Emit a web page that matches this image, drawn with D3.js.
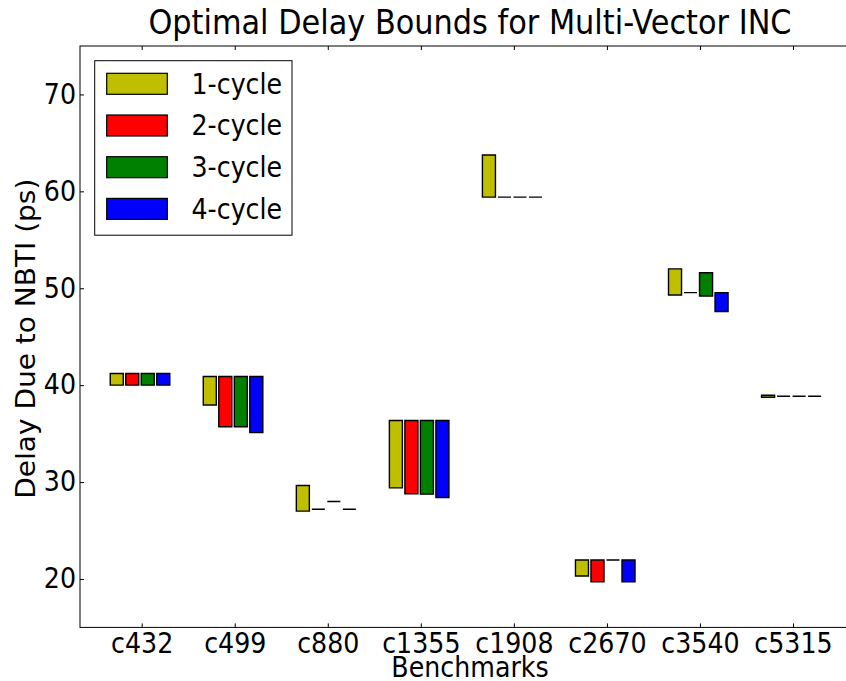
<!DOCTYPE html>
<html>
<head>
<meta charset="utf-8">
<style>
  body { margin: 0; background: #fff; }
  svg { display: block; font-family: "DejaVu Sans", sans-serif; }
</style>
</head>
<body>
<svg width="846" height="681"></svg>
<script src="https://d3js.org/d3.v7.min.js"></script>
<script>

var benchmarks = ["c432", "c499", "c880", "c1355", "c1908", "c2670", "c3540", "c5315"];
var cycles = ["1-cycle", "2-cycle", "3-cycle", "4-cycle"];
var colors = ["#bfbf00", "#ff0000", "#008000", "#0000ff"];

// lower / upper delay bound per benchmark (ps)
var low1  = [40.0, 37.95, 27.0, 29.4, 59.4, 20.3, 49.3, 38.75];
var high1 = [41.2, 40.9, 29.65, 36.35, 63.75, 21.95, 52.0, 38.95];
var low2  = [40.0, 35.7, 27.2, 28.8, 59.4, 19.7, 49.55, 38.85];
var high2 = [41.2, 40.9, 27.2, 36.35, 59.4, 21.95, 49.55, 38.85];
var low3  = [40.0, 35.7, 28.0, 28.75, 59.4, 21.95, 49.2, 38.85];
var high3 = [41.2, 40.9, 28.0, 36.35, 59.4, 21.95, 51.6, 38.85];
var low4  = [40.0, 35.1, 27.2, 28.4, 59.4, 19.7, 47.6, 38.85];
var high4 = [41.2, 40.9, 27.2, 36.35, 59.4, 21.95, 49.55, 38.85];

var yTicks = [20, 30, 40, 50, 60, 70];

var lows = [low1, low2, low3, low4],
    highs = [high1, high2, high3, high4];

var svg = d3.select("svg"),
    fontSize = 27.5,
    squish = 0.92;

var x = d3.scaleLinear().domain([-0.663, 7.72]).range([80, 860]),
    y = d3.scaleLinear().domain([15, 75]).range([627.4, 46]);

var barStep = 1 / 6, barWidth = 0.14, barOffset = -0.338;

svg.append("rect").attr("width", 846).attr("height", 681).attr("fill", "#fff");

// bars
cycles.forEach(function(c, k) {
  var rows = benchmarks.map(function(b, i) {
    return {i: i, lo: lows[k][i], hi: highs[k][i]};
  });
  svg.append("g").selectAll("path")
    .data(rows)
    .enter().append("path")
      .attr("d", function(d) {
        var x0 = x(d.i + barOffset + k * barStep),
            x1 = x(d.i + barOffset + k * barStep + barWidth),
            y0 = y(d.hi), y1 = y(d.lo);
        return "M" + x0 + "," + y0 + "H" + x1 + "V" + y1 + "H" + x0 + "Z";
      })
      .attr("fill", colors[k])
      .attr("stroke", "#000")
      .attr("stroke-width", 1.4);
});

// axes
var xAxis = svg.append("g")
    .attr("transform", "translate(0," + y(15) + ")")
    .call(d3.axisBottom(x).tickValues(d3.range(benchmarks.length))
      .tickFormat(function(i) { return benchmarks[i]; })
      .tickSizeInner(-4).tickSizeOuter(0).tickPadding(5.6));

var xTop = svg.append("g")
    .attr("transform", "translate(0," + y(75) + ")")
    .call(d3.axisTop(x).tickValues(d3.range(benchmarks.length))
      .tickFormat("").tickSizeInner(-4).tickSizeOuter(0));

var yAxis = svg.append("g")
    .attr("transform", "translate(" + x.range()[0] + ",0)")
    .call(d3.axisLeft(y).tickValues(yTicks).tickFormat(d3.format("d"))
      .tickSizeInner(-4).tickSizeOuter(0).tickPadding(4));

[xAxis, xTop, yAxis].forEach(function(g) {
  g.select(".domain").remove();
  g.selectAll("line").attr("stroke", "#000");
  g.selectAll("text")
    .attr("fill", "#000")
    .style("font-family", "DejaVu Sans")
    .style("font-size", fontSize + "px");
});

svg.append("rect")
    .attr("x", 80).attr("y", y(75))
    .attr("width", 780).attr("height", y(15) - y(75))
    .attr("fill", "none").attr("stroke", "#000").attr("stroke-width", 1);

// legend
var legend = svg.append("g");
legend.append("rect")
    .attr("x", 94.7).attr("y", 60.7)
    .attr("width", 197.3).attr("height", 174.5)
    .attr("fill", "#fff").attr("stroke", "#000").attr("stroke-width", 1);

cycles.forEach(function(c, k) {
  var cy = 83.8 + k * 41.7;
  legend.append("rect")
      .attr("x", 106.7).attr("y", cy - 10.5)
      .attr("width", 60.6).attr("height", 21)
      .attr("fill", colors[k]).attr("stroke", "#000").attr("stroke-width", 1.2);
  legend.append("text")
      .attr("x", 191.5).attr("y", cy).attr("dy", "0.36em")
      .style("font-size", fontSize + "px")
      .text(c);
});

// titles
svg.append("text")
    .attr("x", 470).attr("y", 34)
    .attr("text-anchor", "middle")
    .style("font-size", "33px")
    .text("Optimal Delay Bounds for Multi-Vector INC");

svg.append("text")
    .attr("x", 470).attr("y", 677.3)
    .attr("text-anchor", "middle")
    .style("font-size", fontSize + "px")
    .text("Benchmarks");

svg.append("text")
    .attr("class", "ylabel")
    .attr("transform", "translate(34.5," + (y(45) + 2) + ") scale(" + squish + ",1) rotate(-90)")
    .attr("text-anchor", "middle")
    .style("font-size", "28px")
    .text("Delay Due to NBTI (ps)");

// the reference is a bit narrower than tall, so squeeze horizontal text
svg.selectAll("text").filter(function() { return this.getAttribute("class") !== "ylabel"; })
  .each(function() {
    var w = this.getComputedTextLength();
    this.setAttribute("textLength", w * squish);
    this.setAttribute("lengthAdjust", "spacingAndGlyphs");
  });

</script>
</body>
</html>
